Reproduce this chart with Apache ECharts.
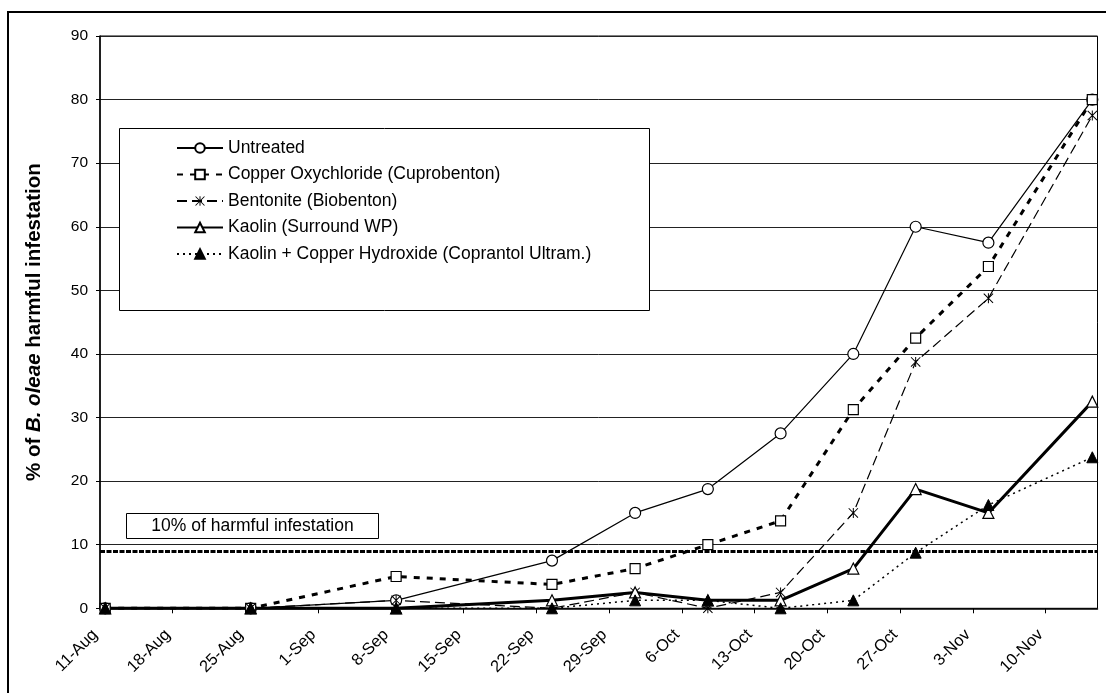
<!DOCTYPE html>
<html><head><meta charset="utf-8">
<script src="https://cdn.jsdelivr.net/npm/echarts/dist/echarts.min.js"></script>
<style>html,body{margin:0;padding:0;background:#fff}#c{width:1106px;height:693px}</style>
</head><body><div id="c"></div><script>
// ---- data ----
const START_DATE = '2008-08-11';
const END_DATE = '2008-11-16';
const SAMPLE_DATES = ['2008-08-11','2008-08-25','2008-09-08','2008-09-23','2008-10-01','2008-10-08','2008-10-15','2008-10-22','2008-10-28','2008-11-04','2008-11-14'];
const TICK_LABELS = ['11-Aug','18-Aug','25-Aug','1-Sep','8-Sep','15-Sep','22-Sep','29-Sep','6-Oct','13-Oct','20-Oct','27-Oct','3-Nov','10-Nov'];
const SERIES_NAMES = ['Untreated','Copper Oxychloride (Cuprobenton)','Bentonite (Biobenton)','Kaolin (Surround WP)','Kaolin + Copper Hydroxide (Coprantol Ultram.)'];
const untreated         = [0, 0, 1.25, 7.5, 15, 18.75, 27.5, 40, 60, 57.5, 80];
const copperOxychloride = [0, 0, 5, 3.75, 6.25, 10, 13.75, 31.25, 42.5, 53.75, 80];
const bentonite         = [0, 0, 1.25, 0, 2.5, 0, 2.5, 15, 38.75, 48.75, 77.5];
const kaolin            = [0, 0, 0, 1.25, 2.5, 1.25, 1.25, 6.25, 18.75, 15, 32.5];
const kaolinCopper      = [0, 0, 0, 0, 1.25, 1.25, 0, 1.25, 8.75, 16.25, 23.75];
const THRESHOLD = 9;
const THRESHOLD_LABEL = '10% of harmful infestation';

// ---- helpers ----
const DAY = 86400000;
const dayIndex = s => Math.round((Date.parse(s) - Date.parse(START_DATE)) / DAY);
const xs = SAMPLE_DATES.map(s => dayIndex(s) + 0.5); // Excel date axis plots mid-day
const pts = vals => vals.map((v, i) => [xs[i], v]);
const FONT = 'Liberation Sans, Arial, sans-serif';
const ASTERISK = 'path://M9 0H11V20H9Z M1.4 0L20 18.6L18.6 20L0 1.4Z M18.6 0L20 1.4L1.4 20L0 18.6Z';

const chart = echarts.init(document.getElementById('c'), null, {renderer: 'canvas'});
const base = {type: 'line', animation: false, z: 3};
chart.setOption({
  backgroundColor: '#fff',
  textStyle: {fontFamily: FONT, color: '#000'},
  grid: {left: 100, top: 36, right: 8.5, bottom: 84.7, containLabel: false, outerBoundsMode: 'none',
         show: true, borderColor: '#000', borderWidth: 1, backgroundColor: 'transparent'},
  xAxis: {
    type: 'value', min: 0, max: dayIndex(END_DATE) - 1, interval: 7,
    axisLine: {show: true, lineStyle: {color: '#000', width: 1.5}},
    axisTick: {show: true, inside: false, length: 5, lineStyle: {color: '#000', width: 1}},
    splitLine: {show: false},
    axisLabel: {rotate: 45, margin: 19, padding: [0, 7, 0, 0], fontSize: 16.5, color: '#000', fontFamily: FONT,
      showMaxLabel: false,
      formatter: v => (v % 7 === 0 && TICK_LABELS[v / 7]) ? TICK_LABELS[v / 7] : ''}
  },
  yAxis: {
    type: 'value', min: 0, max: 90, interval: 10,
    name: '% of {i|B. oleae} harmful infestation', nameLocation: 'middle', nameGap: 55,
    nameTextStyle: {fontSize: 20.5, fontWeight: 'bold', color: '#000', fontFamily: FONT,
      rich: {i: {fontSize: 20.5, fontWeight: 'bold', fontStyle: 'italic', color: '#000', fontFamily: FONT}}},
    axisLine: {show: true, lineStyle: {color: '#000', width: 1.5}},
    axisTick: {show: true, length: 4, lineStyle: {color: '#000'}},
    splitLine: {show: true, lineStyle: {color: '#222', width: 1}},
    axisLabel: {fontSize: 15.5, color: '#000', margin: 12, fontFamily: FONT}
  },
  legend: {
    show: true, orient: 'vertical', left: 176, top: 139, padding: 0,
    itemWidth: 46, itemHeight: 12, itemGap: 8.5, itemTextGap: 5, z: 6,
    textStyle: {fontSize: 17.5, color: '#000', fontFamily: FONT},
    data: SERIES_NAMES
  },
  graphic: [
    {type: 'rect', z: 1, silent: true, shape: {x: 8, y: 12, width: 1120, height: 720},
     style: {fill: 'none', stroke: '#000', lineWidth: 2}},
    {type: 'rect', z: 5, silent: true, shape: {x: 119.5, y: 128.5, width: 530, height: 182},
     style: {fill: '#fff', stroke: '#000', lineWidth: 1}},
    {type: 'rect', z: 5, silent: true, shape: {x: 126.5, y: 513.5, width: 252, height: 25},
     style: {fill: '#fff', stroke: '#000', lineWidth: 1}},
    {type: 'text', z: 6, silent: true, x: 252.5, y: 526,
     style: {text: THRESHOLD_LABEL, fontSize: 17.5, fontFamily: FONT, fill: '#000', align: 'center', verticalAlign: 'middle'}}
  ],
  series: [
    Object.assign({}, base, {name: SERIES_NAMES[0], data: pts(untreated), symbol: 'circle', symbolSize: 11,
      lineStyle: {color: '#000', width: 1.2, type: 'solid'},
      itemStyle: {color: '#fff', borderColor: '#000', borderWidth: 1.2},
      markLine: {silent: true, animation: false, symbol: ['none','none'], label: {show: false},
        lineStyle: {color: '#000', width: 3, type: [5, 1.5]}, data: [{yAxis: THRESHOLD}]}}),
    Object.assign({}, base, {name: SERIES_NAMES[1], data: pts(copperOxychloride), symbol: 'rect', symbolSize: 10,
      lineStyle: {color: '#000', width: 3, type: [6, 7]},
      itemStyle: {color: '#fff', borderColor: '#000', borderWidth: 1.2}}),
    Object.assign({}, base, {name: SERIES_NAMES[2], data: pts(bentonite), symbol: ASTERISK, symbolSize: 10,
      lineStyle: {color: '#000', width: 1.2, type: [10, 5]},
      itemStyle: {color: '#000', borderWidth: 0}}),
    Object.assign({}, base, {name: SERIES_NAMES[3], data: pts(kaolin), symbol: 'triangle', symbolSize: 11,
      lineStyle: {color: '#000', width: 3, type: 'solid'},
      itemStyle: {color: '#fff', borderColor: '#000', borderWidth: 1.2}}),
    Object.assign({}, base, {name: SERIES_NAMES[4], data: pts(kaolinCopper), symbol: 'triangle', symbolSize: 11,
      lineStyle: {color: '#000', width: 1.5, type: [2, 4]},
      itemStyle: {color: '#000', borderColor: '#000', borderWidth: 1}})
  ]
});
</script></body></html>
